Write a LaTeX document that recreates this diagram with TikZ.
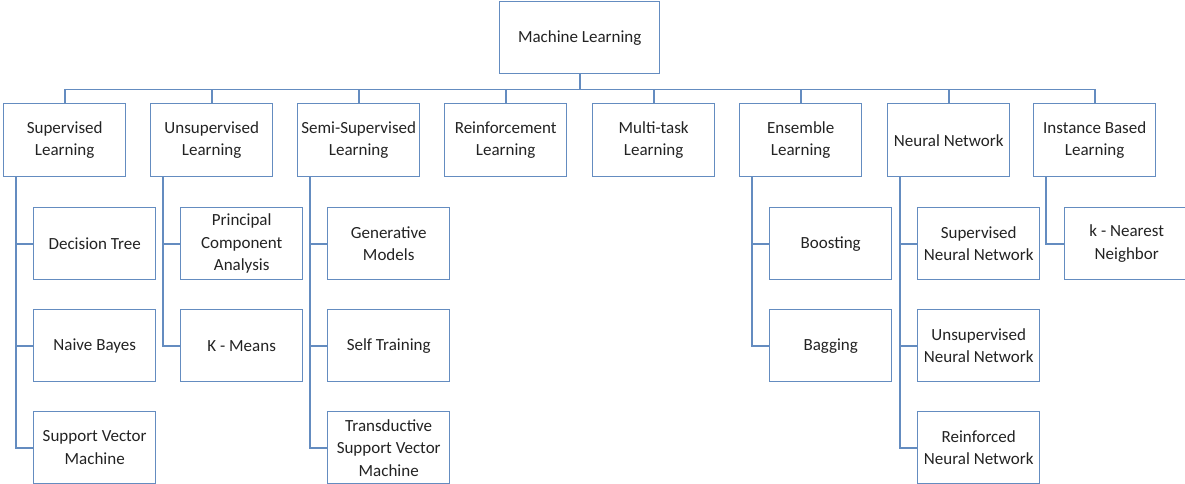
\documentclass[tikz,border=0pt]{standalone}
\usepackage{fontspec}
\setmainfont{Carlito}
\definecolor{lineblue}{RGB}{100,140,192}
\definecolor{txt}{RGB}{35,35,35}
\begin{document}
\begin{tikzpicture}[x=1pt,y=-1pt,
  box/.style={draw=lineblue, line width=1.4pt, fill=white, minimum width=122pt, minimum height=73pt, anchor=north west, align=center, text=txt, font=\fontsize{17}{22.5}\selectfont, inner sep=2pt},
  cbox/.style={box, minimum height=72pt},
  conn/.style={draw=lineblue, line width=1.6pt}]
\useasboundingbox (0,0) rectangle (1185,483);
% root
\node[box, minimum width=160pt, minimum height=72pt] (root) at (499,1) {Machine Learning};
% level 1
\node[box] (s1) at (3,103) {Supervised\\Learning};
\node[box] (s2) at (150,103) {Unsupervised\\Learning};
\node[box] (s3) at (297,103) {Semi-Supervised\\Learning};
\node[box] (s4) at (444,103) {Reinforcement\\Learning};
\node[box] (s5) at (592,103) {Multi-task\\Learning};
\node[box] (s6) at (739,103) {Ensemble\\Learning};
\node[box] (s7) at (887,103) {Neural Network};
\node[box] (s8) at (1033,103) {Instance Based\\Learning};
% level 2
\node[cbox] (s1a) at (33,207) {Decision Tree};
\node[cbox] (s1b) at (33,309) {Naive Bayes};
\node[cbox] (s1c) at (33,411) {Support Vector\\Machine};
\node[cbox] (s2a) at (180,207) {Principal\\Component\\Analysis};
\node[cbox] (s2b) at (180,309) {K - Means};
\node[cbox] (s3a) at (327,207) {Generative\\Models};
\node[cbox] (s3b) at (327,309) {Self Training};
\node[cbox] (s3c) at (327,411) {Transductive\\Support Vector\\Machine};
\node[cbox] (s6a) at (769,207) {Boosting};
\node[cbox] (s6b) at (769,309) {Bagging};
\node[cbox] (s7a) at (917,207) {Supervised\\Neural Network};
\node[cbox] (s7b) at (917,309) {Unsupervised\\Neural Network};
\node[cbox] (s7c) at (917,411) {Reinforced\\Neural Network};
\node[cbox, minimum width=124pt] (s8a) at (1064,207) {k - Nearest\\Neighbor};
% root to level 1
\foreach \c in {s1,s2,s3,s4,s5,s6,s7,s8}
  \draw[conn] (root.south) -- ++(0,15) -| (\c.north);
% level 1 to level 2
\foreach \p/\c in {s1/s1a,s1/s1b,s1/s1c,s2/s2a,s2/s2b,s3/s3a,s3/s3b,s3/s3c,s6/s6a,s6/s6b,s7/s7a,s7/s7b,s7/s7c,s8/s8a}
  \draw[conn] ([xshift=13pt]\p.south west) |- (\c.west);
\end{tikzpicture}
\end{document}
